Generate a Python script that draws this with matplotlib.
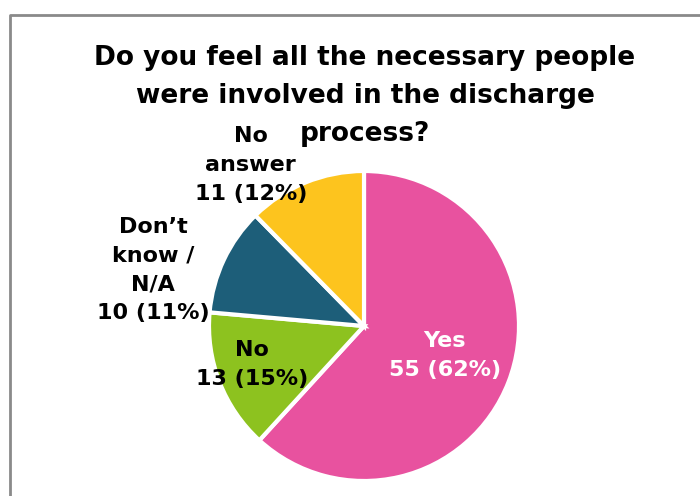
import matplotlib
matplotlib.use("Agg")
import matplotlib.pyplot as plt
from matplotlib.lines import Line2D

title_lines = ["Do you feel all the necessary people",
               "were involved in the discharge",
               "process?"]
categories = ["Yes", "No", "Don\u2019t\nknow /\nN/A", "No\nanswer"]
counts = [55, 13, 10, 11]
percents = [62, 15, 11, 12]
colors = ["#E8529F", "#8DC21F", "#1D5E79", "#FDC41E"]

W, H = 700, 496
CX, CY, R = 364, 326, 155

fig = plt.figure(figsize=(W / 100, H / 100), dpi=100)
ax = fig.add_axes([0, 0, 1, 1])
ax.pie(counts, colors=colors, startangle=90, counterclock=False,
       wedgeprops=dict(edgecolor="white", linewidth=3))
ax.set_aspect("auto")
ax.set_xlim(-CX / R, (W - CX) / R)
ax.set_ylim(-(H - CY) / R, CY / R)
ax.axis("off")

# label positions in pie units (radius = 1)
label_pos = [(0.52, -0.19), (-0.72, -0.25), (-1.36, 0.36), (-0.73, 1.04)]
label_col = ["white", "black", "black", "black"]
for cat, n, p, (x, y), c in zip(categories, counts, percents, label_pos, label_col):
    ax.text(x, y, f"{cat}\n{n} ({p}%)", ha="center", va="center",
            fontsize=16, fontweight="bold", color=c, linespacing=1.55)

# title, one text per line
for i, line in enumerate(title_lines):
    fig.text(365 / W, 1 - (65 + 38 * i) / H, line, ha="center", va="baseline",
             fontsize=19, fontweight="bold")

# chart frame (partially cropped)
fig.add_artist(Line2D([10 / W, 10 / W, 1], [0, 1 - 15 / H, 1 - 15 / H],
                      transform=fig.transFigure, color="#8a8a8a", lw=2))

fig.savefig("out.png", dpi=100)
